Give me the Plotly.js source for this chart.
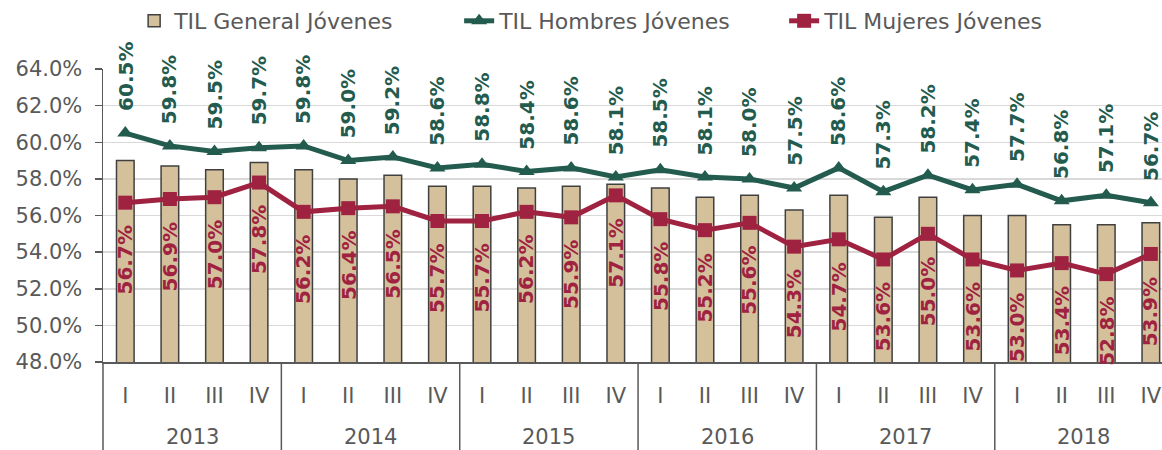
<!DOCTYPE html>
<html>
<head>
<meta charset="utf-8">
<script src="https://cdn.plot.ly/plotly-3.0.1.min.js"></script>
<style>html,body{margin:0;padding:0;background:#fff;}#chart{width:1162px;height:450px;}</style>
</head>
<body>
<div id="chart"></div>
<script>
const years = ['2013', '2014', '2015', '2016', '2017', '2018'];
const quarters = ['I', 'II', 'III', 'IV'];
const generalJovenes = [59.0, 58.7, 58.5, 58.9, 58.5, 58.0, 58.2, 57.6, 57.6, 57.5, 57.6, 57.7,
                        57.5, 57.0, 57.1, 56.3, 57.1, 55.9, 57.0, 56.0, 56.0, 55.5, 55.5, 55.6];
const hombresJovenes = [60.5, 59.8, 59.5, 59.7, 59.8, 59.0, 59.2, 58.6, 58.8, 58.4, 58.6, 58.1,
                        58.5, 58.1, 58.0, 57.5, 58.6, 57.3, 58.2, 57.4, 57.7, 56.8, 57.1, 56.7];
const mujeresJovenes = [56.7, 56.9, 57.0, 57.8, 56.2, 56.4, 56.5, 55.7, 55.7, 56.2, 55.9, 57.1,
                        55.8, 55.2, 55.6, 54.3, 54.7, 53.6, 55.0, 53.6, 53.0, 53.4, 52.8, 53.9];

const FONT = 'DejaVu Sans';
const GREY = '#595959';
const GREEN = '#235B4E';
const WINE = '#9F2241';
const BEIGE = '#D4C19C';

// category keys built from years x quarters
const xKeys = [], xQuarter = [];
years.forEach(y => quarters.forEach(q => { xKeys.push(y + ' ' + q); xQuarter.push(q); }));

const traces = [
  {
    type: 'bar', name: 'TIL General Jóvenes', x: xKeys, y: generalJovenes,
    width: 0.395,
    marker: {color: BEIGE, line: {color: '#404040', width: 1.5}},
    hoverinfo: 'skip'
  },
  {
    type: 'scatter', mode: 'lines+markers', name: 'TIL Hombres Jóvenes', x: xKeys, y: hombresJovenes,
    line: {color: GREEN, width: 5},
    marker: {symbol: 'triangle-up', size: 14, color: GREEN},
    hoverinfo: 'skip'
  },
  {
    type: 'scatter', mode: 'lines+markers', name: 'TIL Mujeres Jóvenes', x: xKeys, y: mujeresJovenes,
    line: {color: WINE, width: 5},
    marker: {symbol: 'square', size: 14, color: WINE},
    hoverinfo: 'skip'
  }
];

const annotations = [];
hombresJovenes.forEach((v, i) => annotations.push({
  x: i, y: v, xref: 'x', yref: 'y', text: '<b>' + v.toFixed(1) + '%</b>',
  textangle: -90, showarrow: false, xanchor: 'center', yanchor: 'bottom', yshift: 20,
  font: {family: FONT, size: 20, color: GREEN}
}));
mujeresJovenes.forEach((v, i) => annotations.push({
  x: i, y: v, xref: 'x', yref: 'y', text: '<b>' + v.toFixed(1) + '%</b>',
  textangle: -90, showarrow: false, xanchor: 'center', yanchor: 'top', yshift: -21,
  font: {family: FONT, size: 20, color: WINE}
}));
// year group labels
years.forEach((y, g) => annotations.push({
  x: g * quarters.length + (quarters.length - 1) / 2, y: -0.256, xref: 'x', yref: 'paper',
  text: y, showarrow: false, xanchor: 'center', yanchor: 'middle',
  font: {family: FONT, size: 21, color: GREY}
}));

// dividers between year groups
const shapes = [{
  type: 'line', xref: 'paper', yref: 'paper', x0: 0, x1: 0, y0: 0, y1: -0.31,
  line: {color: GREY, width: 1.5}
}];
for (let g = 1; g < years.length; g++) {
  const xb = g * quarters.length - 0.5;
  shapes.push({
    type: 'line', xref: 'x', yref: 'paper', x0: xb, x1: xb, y0: 0, y1: -0.31,
    line: {color: GREY, width: 1.5}
  });
}

const layout = {
  width: 1162, height: 450,
  margin: {l: 103, r: 0, t: 69, b: 88},
  paper_bgcolor: '#ffffff', plot_bgcolor: '#ffffff',
  font: {family: FONT, size: 20, color: GREY},
  showlegend: true,
  legend: {
    orientation: 'h', x: 0.0294, xanchor: 'left', y: 1.165, yanchor: 'middle',
    font: {family: FONT, size: 22, color: GREY}, traceorder: 'normal',
    entrywidth: 280, entrywidthmode: 'pixels'
  },
  xaxis: {
    type: 'category', range: [-0.5, 23.25],
    tickmode: 'array', tickvals: xKeys, ticktext: xQuarter,
    showline: true, linecolor: GREY, linewidth: 1.5,
    showgrid: false, ticks: '',
    tickfont: {family: FONT, size: 21, color: GREY},
    ticklabelstandoff: 14
  },
  yaxis: {
    range: [48, 64], dtick: 2, tick0: 48, tickformat: '.1f', ticksuffix: '%',
    showline: true, linecolor: GREY, linewidth: 1.5,
    ticks: 'outside', ticklen: 7, tickcolor: GREY, tickwidth: 1.5,
    showgrid: true, gridcolor: '#d9d9d9', gridwidth: 1.5,
    zeroline: false,
    tickfont: {family: FONT, size: 21, color: GREY},
    ticklabelstandoff: 8
  },
  bargap: 0.6,
  annotations: annotations,
  shapes: shapes
};

Plotly.newPlot('chart', traces, layout, {displayModeBar: false, staticPlot: true});
</script>
</body>
</html>
